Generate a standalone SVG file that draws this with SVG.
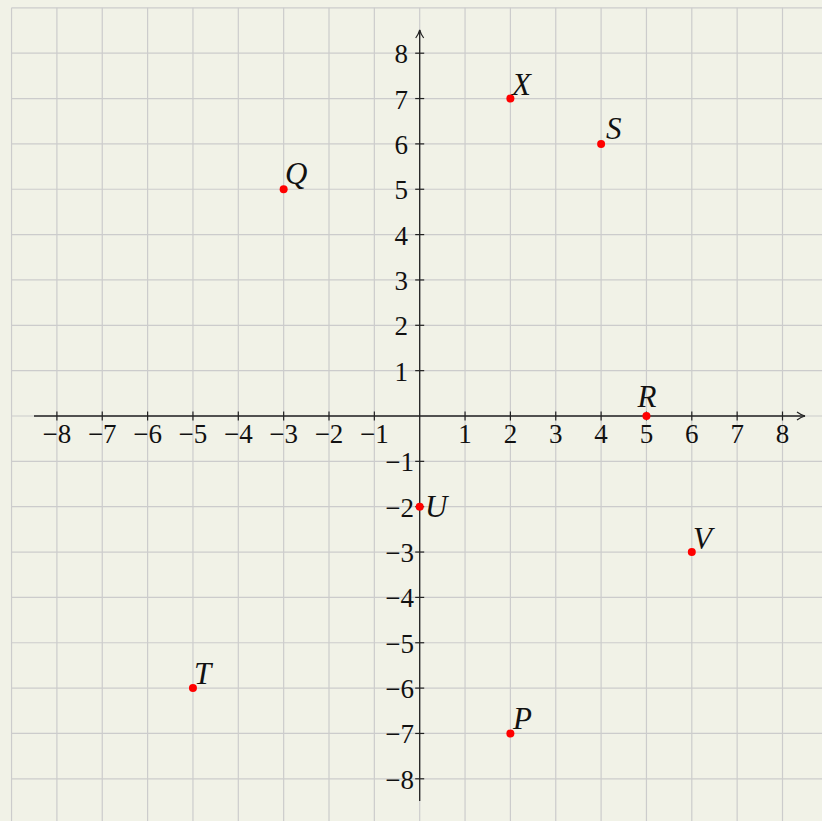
<svg xmlns="http://www.w3.org/2000/svg" width="822" height="821" viewBox="0 0 822 821">
<defs>
<style>
.grid line{stroke:#cccccc;stroke-width:1.2}
.axis{stroke:#222;stroke-width:1.3;fill:none}
.tick{stroke:#222;stroke-width:1.2}
.num{font-family:"Liberation Serif","DejaVu Serif",serif;font-size:27px;fill:#111}
.xl{text-anchor:middle}
.yl{text-anchor:end}
.lab{font-family:"Liberation Serif","DejaVu Serif",serif;font-style:italic;font-size:31px;fill:#111}
.pt{fill:#ff0000}
</style>
<marker id="arr" viewBox="0 0 10 10" refX="9" refY="5" markerWidth="10" markerHeight="10" markerUnits="userSpaceOnUse" orient="auto">
<path d="M1,1 Q5,4 9,5 Q5,6 1,9" fill="none" stroke="#222" stroke-width="1.2"/>
</marker>
</defs>
<rect x="0" y="0" width="822" height="821" fill="#f1f2e7"/>
<g class="grid">
<line x1="11.55" y1="7.85" x2="11.55" y2="821"/>
<line x1="56.9" y1="7.85" x2="56.9" y2="821"/>
<line x1="102.25" y1="7.85" x2="102.25" y2="821"/>
<line x1="147.6" y1="7.85" x2="147.6" y2="821"/>
<line x1="192.95" y1="7.85" x2="192.95" y2="821"/>
<line x1="238.3" y1="7.85" x2="238.3" y2="821"/>
<line x1="283.65" y1="7.85" x2="283.65" y2="821"/>
<line x1="329" y1="7.85" x2="329" y2="821"/>
<line x1="374.35" y1="7.85" x2="374.35" y2="821"/>
<line x1="419.7" y1="7.85" x2="419.7" y2="821"/>
<line x1="465.05" y1="7.85" x2="465.05" y2="821"/>
<line x1="510.4" y1="7.85" x2="510.4" y2="821"/>
<line x1="555.75" y1="7.85" x2="555.75" y2="821"/>
<line x1="601.1" y1="7.85" x2="601.1" y2="821"/>
<line x1="646.45" y1="7.85" x2="646.45" y2="821"/>
<line x1="691.8" y1="7.85" x2="691.8" y2="821"/>
<line x1="737.15" y1="7.85" x2="737.15" y2="821"/>
<line x1="782.5" y1="7.85" x2="782.5" y2="821"/>
<line x1="11.55" y1="7.85" x2="822" y2="7.85"/>
<line x1="11.55" y1="53.2" x2="822" y2="53.2"/>
<line x1="11.55" y1="98.55" x2="822" y2="98.55"/>
<line x1="11.55" y1="143.9" x2="822" y2="143.9"/>
<line x1="11.55" y1="189.25" x2="822" y2="189.25"/>
<line x1="11.55" y1="234.6" x2="822" y2="234.6"/>
<line x1="11.55" y1="279.95" x2="822" y2="279.95"/>
<line x1="11.55" y1="325.3" x2="822" y2="325.3"/>
<line x1="11.55" y1="370.65" x2="822" y2="370.65"/>
<line x1="11.55" y1="416" x2="822" y2="416"/>
<line x1="11.55" y1="461.35" x2="822" y2="461.35"/>
<line x1="11.55" y1="506.7" x2="822" y2="506.7"/>
<line x1="11.55" y1="552.05" x2="822" y2="552.05"/>
<line x1="11.55" y1="597.4" x2="822" y2="597.4"/>
<line x1="11.55" y1="642.75" x2="822" y2="642.75"/>
<line x1="11.55" y1="688.1" x2="822" y2="688.1"/>
<line x1="11.55" y1="733.45" x2="822" y2="733.45"/>
<line x1="11.55" y1="778.8" x2="822" y2="778.8"/>
</g>
<g id="axes">
<line class="axis" x1="34" y1="416" x2="805" y2="416" marker-end="url(#arr)"/>
<line class="axis" x1="419.7" y1="801" x2="419.7" y2="30" marker-end="url(#arr)"/>
<g class="tick">
<line x1="56.9" y1="411.5" x2="56.9" y2="420.5"/>
<line x1="102.25" y1="411.5" x2="102.25" y2="420.5"/>
<line x1="147.6" y1="411.5" x2="147.6" y2="420.5"/>
<line x1="192.95" y1="411.5" x2="192.95" y2="420.5"/>
<line x1="238.3" y1="411.5" x2="238.3" y2="420.5"/>
<line x1="283.65" y1="411.5" x2="283.65" y2="420.5"/>
<line x1="329" y1="411.5" x2="329" y2="420.5"/>
<line x1="374.35" y1="411.5" x2="374.35" y2="420.5"/>
<line x1="465.05" y1="411.5" x2="465.05" y2="420.5"/>
<line x1="510.4" y1="411.5" x2="510.4" y2="420.5"/>
<line x1="555.75" y1="411.5" x2="555.75" y2="420.5"/>
<line x1="601.1" y1="411.5" x2="601.1" y2="420.5"/>
<line x1="646.45" y1="411.5" x2="646.45" y2="420.5"/>
<line x1="691.8" y1="411.5" x2="691.8" y2="420.5"/>
<line x1="737.15" y1="411.5" x2="737.15" y2="420.5"/>
<line x1="782.5" y1="411.5" x2="782.5" y2="420.5"/>
<line x1="415.2" y1="53.2" x2="424.2" y2="53.2"/>
<line x1="415.2" y1="98.55" x2="424.2" y2="98.55"/>
<line x1="415.2" y1="143.9" x2="424.2" y2="143.9"/>
<line x1="415.2" y1="189.25" x2="424.2" y2="189.25"/>
<line x1="415.2" y1="234.6" x2="424.2" y2="234.6"/>
<line x1="415.2" y1="279.95" x2="424.2" y2="279.95"/>
<line x1="415.2" y1="325.3" x2="424.2" y2="325.3"/>
<line x1="415.2" y1="370.65" x2="424.2" y2="370.65"/>
<line x1="415.2" y1="461.35" x2="424.2" y2="461.35"/>
<line x1="415.2" y1="506.7" x2="424.2" y2="506.7"/>
<line x1="415.2" y1="552.05" x2="424.2" y2="552.05"/>
<line x1="415.2" y1="597.4" x2="424.2" y2="597.4"/>
<line x1="415.2" y1="642.75" x2="424.2" y2="642.75"/>
<line x1="415.2" y1="688.1" x2="424.2" y2="688.1"/>
<line x1="415.2" y1="733.45" x2="424.2" y2="733.45"/>
<line x1="415.2" y1="778.8" x2="424.2" y2="778.8"/>
</g>
<g class="num xl">
<text x="56.9" y="443">−8</text>
<text x="102.25" y="443">−7</text>
<text x="147.6" y="443">−6</text>
<text x="192.95" y="443">−5</text>
<text x="238.3" y="443">−4</text>
<text x="283.65" y="443">−3</text>
<text x="329" y="443">−2</text>
<text x="374.35" y="443">−1</text>
<text x="465.05" y="443">1</text>
<text x="510.4" y="443">2</text>
<text x="555.75" y="443">3</text>
<text x="601.1" y="443">4</text>
<text x="646.45" y="443">5</text>
<text x="691.8" y="443">6</text>
<text x="737.15" y="443">7</text>
<text x="782.5" y="443">8</text>
</g>
<g class="num yl">
<text x="408" y="63.2">8</text>
<text x="408" y="108.55">7</text>
<text x="408" y="153.9">6</text>
<text x="408" y="199.25">5</text>
<text x="408" y="244.6">4</text>
<text x="408" y="289.95">3</text>
<text x="408" y="335.3">2</text>
<text x="408" y="380.65">1</text>
<text x="414" y="471.35">−1</text>
<text x="414" y="516.7">−2</text>
<text x="414" y="562.05">−3</text>
<text x="414" y="607.4">−4</text>
<text x="414" y="652.75">−5</text>
<text x="414" y="698.1">−6</text>
<text x="414" y="743.45">−7</text>
<text x="414" y="788.8">−8</text>
</g>
</g>
<g id="X"><circle class="pt" cx="510.4" cy="98.55" r="4"/><text class="lab" x="512" y="95">X</text></g>
<g id="S"><circle class="pt" cx="601.1" cy="143.9" r="4"/><text class="lab" x="606" y="139">S</text></g>
<g id="Q"><circle class="pt" cx="283.65" cy="189.25" r="4"/><text class="lab" x="285" y="184">Q</text></g>
<g id="R"><circle class="pt" cx="646.45" cy="416" r="4"/><text class="lab" x="647" y="407" text-anchor="middle">R</text></g>
<g id="U"><circle class="pt" cx="419.7" cy="506.7" r="4"/><text class="lab" x="425" y="517">U</text></g>
<g id="V"><circle class="pt" cx="691.8" cy="552.05" r="4"/><text class="lab" x="693" y="549">V</text></g>
<g id="T"><circle class="pt" cx="192.95" cy="688.1" r="4"/><text class="lab" x="194" y="684">T</text></g>
<g id="P"><circle class="pt" cx="510.4" cy="733.45" r="4"/><text class="lab" x="513" y="729">P</text></g>
</svg>
